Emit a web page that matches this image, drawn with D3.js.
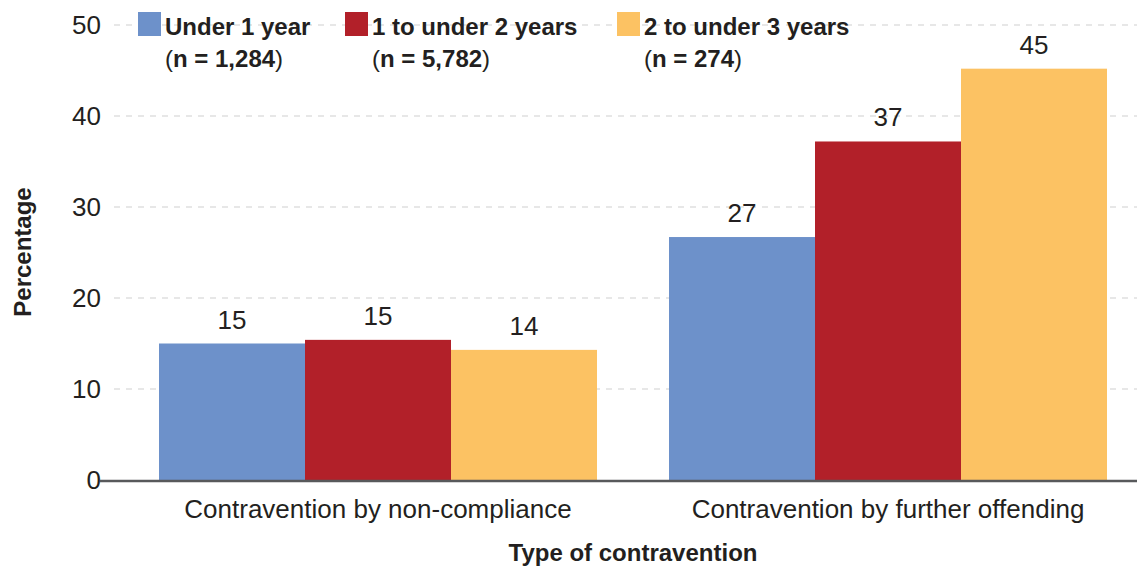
<!DOCTYPE html>
<html>
<head>
<meta charset="utf-8">
<script src="https://cdn.jsdelivr.net/npm/d3@7"></script>
<style>
  body { margin: 0; background: #fff; }
  svg text { font-family: "Liberation Sans", Arial, sans-serif; fill: #231f20; }
</style>
</head>
<body>
<div id="chart"></div>
<script>
// Data
const categories = ['Contravention by non-compliance', 'Contravention by further offending'];
const seriesNames = ['Under 1 year', '1 to under 2 years', '2 to under 3 years'];
const seriesCounts = ['1,284', '5,782', '274'];
const seriesColors = ['#6d91ca', '#b22029', '#fcc263'];
// values[series][category]
const values = [
  [15.0, 26.7],
  [15.4, 37.2],
  [14.3, 45.2]
];
const labels = [
  [15, 27],
  [15, 37],
  [14, 45]
];
const yTicks = [0, 10, 20, 30, 40, 50];

const width = 1137, height = 567;

const svg = d3.select('#chart').append('svg')
  .attr('width', width)
  .attr('height', height);

// Scales
const x0 = d3.scaleBand().domain(categories)
  .range([123, 1143]).paddingInner(0.1412).paddingOuter(0.0706);
const x1 = d3.scaleBand().domain(seriesNames).range([0, x0.bandwidth()]);
const y = d3.scaleLinear().domain([0, 50]).range([480, 25]);

// Gridlines
svg.append('g')
  .selectAll('line')
  .data(yTicks.filter(d => d > 0))
  .enter().append('line')
  .attr('x1', 114).attr('x2', width)
  .attr('y1', d => y(d)).attr('y2', d => y(d))
  .attr('stroke', '#cfcfcf')
  .attr('stroke-width', 1.2)
  .attr('stroke-dasharray', '6,6');

// Y axis labels
const yAxis = d3.axisLeft(y).tickValues(yTicks).tickSize(0).tickPadding(0);
const yg = svg.append('g').attr('transform', 'translate(101,0)').call(yAxis);
yg.select('.domain').remove();
yg.selectAll('text')
  .attr('font-size', 26)
  .attr('font-family', '"Liberation Sans", Arial, sans-serif')
  .attr('fill', '#231f20');

// Bars
const groups = svg.append('g').selectAll('g')
  .data(categories)
  .enter().append('g')
  .attr('transform', d => 'translate(' + x0(d) + ',0)');

groups.selectAll('rect')
  .data((d, ci) => seriesNames.map((s, si) => ({ s: s, si: si, v: values[si][ci], l: labels[si][ci] })))
  .enter().append('rect')
  .attr('x', d => x1(d.s))
  .attr('width', x1.bandwidth())
  .attr('y', d => y(d.v))
  .attr('height', d => y(0) - y(d.v))
  .attr('fill', d => seriesColors[d.si]);

groups.selectAll('text.val')
  .data((d, ci) => seriesNames.map((s, si) => ({ s: s, si: si, v: values[si][ci], l: labels[si][ci] })))
  .enter().append('text')
  .attr('class', 'val')
  .attr('x', d => x1(d.s) + x1.bandwidth() / 2)
  .attr('y', d => y(d.v) - 15)
  .attr('text-anchor', 'middle')
  .attr('font-size', 26)
  .text(d => d.l);

// X axis line
svg.append('line')
  .attr('x1', 100).attr('x2', width)
  .attr('y1', y(0) + 1).attr('y2', y(0) + 1)
  .attr('stroke', '#58595b')
  .attr('stroke-width', 2.5);

// X axis category labels
const xAxis = d3.axisBottom(x0).tickSize(0).tickPadding(0);
const xg = svg.append('g').attr('transform', 'translate(0,500)').call(xAxis);
xg.select('.domain').remove();
xg.selectAll('text')
  .attr('font-size', 26)
  .attr('font-family', '"Liberation Sans", Arial, sans-serif')
  .attr('fill', '#231f20');

// Axis titles
svg.append('text')
  .attr('transform', 'translate(31,252) rotate(-90)')
  .attr('text-anchor', 'middle')
  .attr('font-size', 24)
  .attr('font-weight', 'bold')
  .text('Percentage');

svg.append('text')
  .attr('x', 633).attr('y', 561)
  .attr('text-anchor', 'middle')
  .attr('font-size', 24)
  .attr('font-weight', 'bold')
  .text('Type of contravention');

// Legend
const legendX = [138, 345, 617];
const legend = svg.append('g').selectAll('g')
  .data(seriesNames)
  .enter().append('g')
  .attr('transform', (d, i) => 'translate(' + legendX[i] + ',0)');

legend.append('rect')
  .attr('x', 0).attr('y', 12)
  .attr('width', 23).attr('height', 24)
  .attr('fill', (d, i) => seriesColors[i]);

legend.append('text')
  .attr('x', 27).attr('y', 35)
  .attr('font-size', 24)
  .attr('font-weight', 'bold')
  .text(d => d);

const nLine = legend.append('text')
  .attr('x', 27).attr('y', 67)
  .attr('font-size', 24)
  .attr('font-weight', 'bold');
nLine.append('tspan').attr('font-weight', 'normal').text('(');
nLine.append('tspan').text((d, i) => 'n = ' + seriesCounts[i]);
nLine.append('tspan').attr('font-weight', 'normal').text(')');
</script>
</body>
</html>
